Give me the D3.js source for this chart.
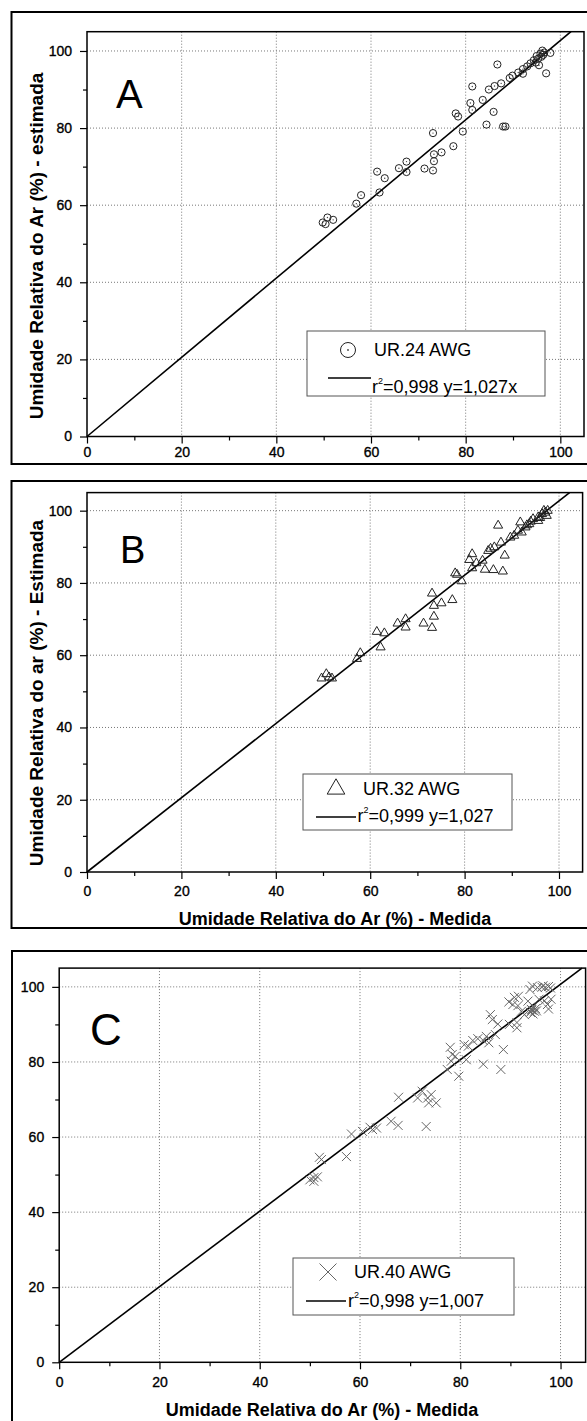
<!DOCTYPE html>
<html>
<head>
<meta charset="utf-8">
<script src="https://cdn.jsdelivr.net/npm/d3@7"></script>
<style>
body { margin: 0; background: #fff; }
svg text { font-family: "Liberation Sans", Arial, sans-serif; }
</style>
</head>
<body>
<svg id="fig" width="587" height="1421"></svg>
<script>
// values
const majorTicks = [0, 20, 40, 60, 80, 100];
const minorTicks = [10, 30, 50, 70, 90];
const axisDomain = [0, 105];

// [medida, estimada]
const urA = [
  [49.8,55.5],[50.8,56.8],[50.4,55.1],[52.0,56.2],[56.9,60.4],[57.9,62.6],[61.3,68.7],[61.8,63.3],
  [62.9,67.0],[65.9,69.6],[67.5,71.3],[67.5,68.6],[71.3,69.5],[73.1,78.7],[73.1,69.0],[73.3,73.2],
  [73.3,71.4],[74.9,73.7],[77.4,75.3],[77.9,83.8],[78.4,83.0],[79.4,79.1],[81.0,86.5],[81.4,90.8],
  [81.4,84.7],[83.6,87.3],[84.4,80.9],[84.9,90.0],[85.9,84.2],[86.1,90.9],[86.7,96.5],[87.5,91.6],
  [87.9,80.4],[88.4,80.4],[89.3,93.0],[89.9,93.6],[91.1,94.4],[92.1,95.3],[92.1,94.1],[93.0,96.0],
  [93.7,96.8],[94.4,97.6],[95.5,96.3],[95.0,98.7],[95.8,99.3],[96.2,100.1],[96.6,99.6],[97.0,94.2],
  [97.9,99.5],[94.8,97.0],[95.3,98.0],[96.0,98.5],[96.4,99.0]
];
const urB = [
  [49.7,53.6],[50.7,54.8],[51.3,53.9],[51.9,53.6],[57.2,59.0],[57.9,60.6],[61.4,66.5],[62.2,62.2],
  [63.0,66.1],[65.8,68.8],[67.5,70.0],[67.5,67.7],[71.3,68.8],[73.1,77.1],[73.1,67.6],[73.5,73.7],
  [73.5,70.7],[75.1,74.4],[77.4,75.3],[78.0,82.7],[78.4,82.3],[79.4,80.5],[81.0,86.4],[81.6,88.0],
  [81.6,84.1],[83.8,86.2],[84.3,83.7],[85.0,88.9],[86.1,83.6],[86.3,89.9],[87.1,95.9],[87.7,91.2],
  [88.1,83.2],[88.5,87.6],[89.7,92.6],[90.5,93.1],[91.3,94.5],[91.8,96.8],[92.1,94.0],[92.9,95.4],
  [93.7,96.3],[94.5,97.7],[95.6,98.2],[95.6,97.2],[96.4,99.1],[97.1,99.5],[97.6,100.0],[97.4,98.6],
  [85.5,89.5],[82.5,85.5],[93.2,96.0],[94.0,97.0],[96.0,98.0],[96.8,100.0]
];
const urC = [
  [50.0,48.6],[50.8,49.2],[50.8,48.2],[51.5,49.4],[51.9,54.6],[52.3,54.0],[57.3,54.8],[58.3,60.8],
  [62.0,62.6],[62.5,62.0],[63.3,62.4],[66.2,64.2],[67.6,63.1],[67.7,70.6],[71.5,70.4],[72.4,72.2],
  [73.2,62.8],[73.5,70.4],[73.7,69.1],[74.2,71.3],[75.2,69.1],[77.4,78.0],[78.0,83.9],[78.4,82.0],
  [78.2,80.2],[79.7,76.2],[80.8,84.6],[81.2,80.6],[81.6,84.2],[82.5,85.7],[84.6,79.4],[84.6,85.7],
  [85.7,85.1],[86.0,92.6],[86.4,91.3],[87.0,87.3],[87.5,90.1],[88.1,78.0],[88.6,83.3],[89.8,90.0],
  [90.5,95.3],[91.3,90.5],[91.6,97.5],[92.2,93.5],[92.8,92.6],[93.5,96.2],[93.9,99.3],[94.2,94.0],
  [94.4,100.2],[94.6,94.8],[94.8,93.5],[95.4,99.8],[95.7,96.7],[96.3,99.9],[96.8,96.3],[97.0,99.9],
  [97.4,95.3],[97.6,94.1],[98.0,99.7],[98.1,96.7],[94.0,93.2],[94.5,92.8],[95.0,94.2],[94.3,93.8],
  [95.2,93.6],[89.7,96.0],[90.8,97.2],[91.5,95.0],[91.3,89.1],[83.5,86.2],[85.2,86.8],[79.0,81.5],
  [60.5,61.5],[96.5,100.3],[97.6,100.1]
];

const fitSlopes = [1.027, 1.027, 1.007];
const panelLetters = ["A", "B", "C"];
const seriesNames = ["UR.24 AWG", "UR.32 AWG", "UR.40 AWG"];
const r2Values = ["0,998", "0,999", "0,998"];
const fitEquations = ["y=1,027x", "y=1,027", "y=1,007"];
const yTitles = ["Umidade Relativa do Ar (%) - estimada", "Umidade Relativa do ar (%) - Estimada", null];
const xTitles = [null, "Umidade Relativa do Ar (%) - Medida", "Umidade Relativa do Ar (%) - Medida"];

// layout of the three panels
const panels = [
  { data: urA, marker: "circle", frame: [11.5, 12, 600, 452], plot: [87, 584, 436.5, 31.7], xPad: 3.5,
    letter: [116, 108, 40], yTitle: [43, 246], xTitle: null,
    legend: { box: [307, 331, 238, 65], mark: [348, 350], name: [374, 356], line: [328, 371, 378], fit: [372, 393] } },
  { data: urB, marker: "triangle", frame: [11.5, 481, 600, 447], plot: [87, 582.6, 872, 492.6], xPad: 7.5,
    letter: [120, 563, 38], yTitle: [43, 693], xTitle: [335, 924.5],
    legend: { box: [303, 774, 209, 56], mark: [336, 789], name: [363, 795], line: [316, 356, 817], fit: [357.5, 822] } },
  { data: urC, marker: "cross", frame: [12, 951, 600, 520], plot: [59.2, 585.6, 1362.3, 968.1], xPad: 7.5,
    letter: [90, 1045, 44], yTitle: null, xTitle: [322, 1415.5],
    legend: { box: [293, 1258, 221, 57], mark: [328, 1272], name: [354, 1278], line: [306, 346, 1301], fit: [348, 1307] } }
];

const svg = d3.select("#fig");

function drawMarker(g, type, cx, cy, big) {
  if (type === "circle") {
    const r = big ? 7.5 : 3.6;
    g.append("circle").attr("cx", cx).attr("cy", cy).attr("r", r)
      .attr("fill", "none").attr("stroke", "#222").attr("stroke-width", 1);
    g.append("circle").attr("cx", cx).attr("cy", cy).attr("r", big ? 0.9 : 0.7).attr("fill", "#444");
  } else if (type === "triangle") {
    g.append("path").attr("d", d3.symbol().type(d3.symbolTriangle).size(big ? 135 : 36)())
      .attr("transform", "translate(" + cx + "," + cy + ")")
      .attr("fill", "none").attr("stroke", "#222").attr("stroke-width", 1);
  } else {
    const h = big ? 8.5 : 4.5;
    g.append("path").attr("d", "M" + (-h) + "," + (-h) + "L" + h + "," + h + "M" + (-h) + "," + h + "L" + h + "," + (-h))
      .attr("transform", "translate(" + cx + "," + cy + ")")
      .attr("fill", "none").attr("stroke", "#666").attr("stroke-width", 1);
  }
}

panels.forEach(function(p, i) {
  const g = svg.append("g");

  // outer frame
  g.append("rect").attr("x", p.frame[0]).attr("y", p.frame[1])
    .attr("width", p.frame[2]).attr("height", p.frame[3])
    .attr("fill", "none").attr("stroke", "#000").attr("stroke-width", 2);

  const x = d3.scaleLinear().domain(axisDomain).range([p.plot[0], p.plot[1]]);
  const y = d3.scaleLinear().domain(axisDomain).range([p.plot[2], p.plot[3]]);

  // dotted grid
  g.append("g").selectAll("line").data(majorTicks.slice(1)).join("line")
    .attr("x1", d => x(d)).attr("x2", d => x(d))
    .attr("y1", y(axisDomain[1])).attr("y2", y(0))
    .attr("stroke", "#777").attr("stroke-width", 1).attr("stroke-dasharray", "1,2");
  g.append("g").selectAll("line").data(majorTicks.slice(1)).join("line")
    .attr("y1", d => y(d)).attr("y2", d => y(d))
    .attr("x1", x(0)).attr("x2", x(axisDomain[1]))
    .attr("stroke", "#777").attr("stroke-width", 1).attr("stroke-dasharray", "1,2");

  // axes
  const xa = g.append("g").attr("transform", "translate(0," + y(0) + ")")
    .call(d3.axisBottom(x).tickValues(majorTicks).tickSize(7).tickPadding(p.xPad));
  const xm = g.append("g").attr("transform", "translate(0," + y(0) + ")")
    .call(d3.axisBottom(x).tickValues(minorTicks).tickSize(4).tickFormat(""));
  const ya = g.append("g").attr("transform", "translate(" + x(0) + ",0)")
    .call(d3.axisLeft(y).tickValues(majorTicks).tickSize(7).tickPadding(8));
  const ym = g.append("g").attr("transform", "translate(" + x(0) + ",0)")
    .call(d3.axisLeft(y).tickValues(minorTicks).tickSize(4).tickFormat(""));
  [xa, xm, ya, ym].forEach(function(a) {
    a.select(".domain").remove();
    a.selectAll("line").attr("stroke", "#000").attr("stroke-width", 1.2);
    a.attr("font-family", null).attr("font-size", 14);
    a.selectAll("text").attr("fill", "#000").attr("stroke", "#000").attr("stroke-width", 0.35);
  });

  // plot box
  g.append("rect").attr("x", x(0)).attr("y", y(axisDomain[1]))
    .attr("width", x(axisDomain[1]) - x(0)).attr("height", y(0) - y(axisDomain[1]))
    .attr("fill", "none").attr("stroke", "#000").attr("stroke-width", 1.5);

  // fitted line y = b*x
  const xEnd = Math.min(axisDomain[1], axisDomain[1] / fitSlopes[i]);
  g.append("path").datum([0, xEnd])
    .attr("fill", "none").attr("stroke", "#000").attr("stroke-width", 1.6)
    .attr("d", d3.line().x(d => x(d)).y(d => y(d * fitSlopes[i])));

  // points
  const pg = g.append("g");
  p.data.forEach(function(d) {
    drawMarker(pg, p.marker, x(d[0]), y(d[1]), false);
  });

  // panel letter
  g.append("text").attr("x", p.letter[0]).attr("y", p.letter[1])
    .attr("font-size", p.letter[2]).text(panelLetters[i]);

  // axis titles
  if (yTitles[i]) {
    g.append("text").attr("transform", "translate(" + p.yTitle[0] + "," + p.yTitle[1] + ") rotate(-90)")
      .attr("text-anchor", "middle").attr("font-size", 19).attr("font-weight", "bold")
      .text(yTitles[i]);
  }
  if (xTitles[i]) {
    g.append("text").attr("x", p.xTitle[0]).attr("y", p.xTitle[1])
      .attr("text-anchor", "middle").attr("font-size", 18).attr("font-weight", "bold")
      .text(xTitles[i]);
  }

  // legend
  const L = p.legend;
  const lg = g.append("g");
  lg.append("rect").attr("x", L.box[0]).attr("y", L.box[1]).attr("width", L.box[2]).attr("height", L.box[3])
    .attr("fill", "#fff").attr("stroke", "#555").attr("stroke-width", 1);
  drawMarker(lg, p.marker, L.mark[0], L.mark[1], true);
  lg.append("text").attr("x", L.name[0]).attr("y", L.name[1]).attr("font-size", 18).text(seriesNames[i]);
  lg.append("line").attr("x1", L.line[0]).attr("x2", L.line[1]).attr("y1", L.line[2]).attr("y2", L.line[2])
    .attr("stroke", "#000").attr("stroke-width", 1.6);
  const ft = lg.append("text").attr("x", L.fit[0]).attr("y", L.fit[1]).attr("font-size", 18);
  ft.append("tspan").text("r");
  ft.append("tspan").attr("font-size", 9).attr("dy", -9).text("2");
  ft.append("tspan").attr("dy", 9).text("=" + r2Values[i] + " " + fitEquations[i]);
});
</script>
</body>
</html>
